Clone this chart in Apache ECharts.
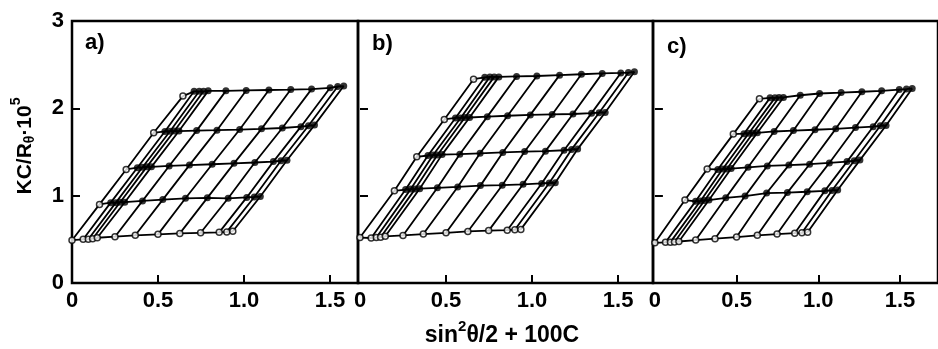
<!DOCTYPE html>
<html>
<head>
<meta charset="utf-8">
<script src="https://cdn.jsdelivr.net/npm/echarts@6/dist/echarts.min.js"></script>
<style>
  html, body { margin: 0; padding: 0; background: #fff; }
  #chart { width: 938px; height: 349px; }
</style>
</head>
<body>
<div id="chart"></div>
<script>
  // sin^2(theta/2) of the 12 scattering angles
  const sinSq = [0.065, 0.095, 0.12, 0.147, 0.25, 0.368, 0.5, 0.627, 0.748, 0.856, 0.9, 0.935]
  const xTicks = [0, 0.5, 1, 1.5]
  const yTicks = [0, 1, 2, 3]
  const panelNames = ['a)', 'b)', 'c)']

  // panel a
  const concA = [0.16, 0.315, 0.475, 0.645]
  const zeroAngleA = [0.90, 1.30, 1.72, 2.14]
  const originA = 0.49
  const zeroConcA = [0.50, 0.50, 0.507, 0.518, 0.53, 0.546, 0.557, 0.568, 0.575, 0.58, 0.585, 0.592]
  const a1 = [0.92, 0.92, 0.925, 0.925, 0.94, 0.955, 0.97, 0.975, 0.97, 0.98, 0.985, 0.99]
  const a2 = [1.32, 1.325, 1.33, 1.33, 1.34, 1.35, 1.36, 1.37, 1.38, 1.39, 1.40, 1.405]
  const a3 = [1.735, 1.738, 1.74, 1.74, 1.745, 1.75, 1.757, 1.765, 1.775, 1.79, 1.80, 1.808]
  const a4 = [2.195, 2.195, 2.195, 2.2, 2.2, 2.205, 2.21, 2.215, 2.22, 2.235, 2.25, 2.255]

  // panel b
  const concB = [0.2, 0.33, 0.49, 0.66]
  const zeroAngleB = [1.056, 1.445, 1.873, 2.334]
  const originB = 0.52
  const zeroConcB = [0.515, 0.52, 0.525, 0.535, 0.545, 0.56, 0.575, 0.59, 0.60, 0.605, 0.61, 0.614]
  const b1 = [1.07, 1.075, 1.075, 1.08, 1.09, 1.10, 1.115, 1.12, 1.13, 1.14, 1.145, 1.148]
  const b2 = [1.46, 1.465, 1.465, 1.47, 1.475, 1.485, 1.495, 1.505, 1.51, 1.52, 1.53, 1.533]
  const b3 = [1.89, 1.89, 1.895, 1.895, 1.905, 1.915, 1.925, 1.93, 1.935, 1.945, 1.95, 1.953]
  const b4 = [2.355, 2.36, 2.36, 2.36, 2.365, 2.37, 2.38, 2.39, 2.40, 2.405, 2.41, 2.418]

  // panel c
  const concC = [0.184, 0.32, 0.48, 0.64]
  const zeroAngleC = [0.95, 1.304, 1.705, 2.109]
  const originC = 0.46
  const zeroConcC = [0.466, 0.468, 0.47, 0.475, 0.492, 0.507, 0.526, 0.546, 0.56, 0.57, 0.575, 0.58]
  const c1 = [0.935, 0.94, 0.945, 0.95, 0.975, 0.995, 1.03, 1.035, 1.045, 1.055, 1.06, 1.064]
  const c2 = [1.30, 1.305, 1.305, 1.31, 1.325, 1.34, 1.35, 1.36, 1.375, 1.39, 1.40, 1.407]
  const c3 = [1.71, 1.715, 1.715, 1.72, 1.735, 1.745, 1.755, 1.765, 1.78, 1.79, 1.80, 1.804]
  const c4 = [2.12, 2.12, 2.125, 2.125, 2.15, 2.17, 2.18, 2.19, 2.2, 2.215, 2.22, 2.228]

  const panels = [
    {conc: concA, zeroAngle: zeroAngleA, origin: originA, zeroConc: zeroConcA, rows: [a1, a2, a3, a4]},
    {conc: concB, zeroAngle: zeroAngleB, origin: originB, zeroConc: zeroConcB, rows: [b1, b2, b3, b4]},
    {conc: concC, zeroAngle: zeroAngleC, origin: originC, zeroConc: zeroConcC, rows: [c1, c2, c3, c4]}
  ]

  const font = 'Liberation Sans'
  const grids = [
    {left: 72, top: 21, width: 286, height: 262},
    {left: 358, top: 21, width: 295, height: 262},
    {left: 653, top: 21, width: 300, height: 262}
  ]
  const xRange = [[0, 1.663], [-0.0116, 1.703], [-0.0116, 1.733]]

  function lineSeries (idx, data) {
    return {
      type: 'line',
      xAxisIndex: idx,
      yAxisIndex: idx,
      data: data,
      symbol: 'none',
      silent: true,
      z: 2,
      lineStyle: {color: '#000', width: 1.8}
    }
  }

  let series = []
  panels.forEach((p, idx) => {
    let openPts = [[0, p.origin]]
    let filledPts = []
    // extrapolated c = 0 line
    let bottom = [[0, p.origin]]
    sinSq.forEach((k, i) => {
      bottom.push([k, p.zeroConc[i]])
      openPts.push([k, p.zeroConc[i]])
    })
    series.push(lineSeries(idx, bottom))
    // extrapolated theta = 0 line
    let left = [[0, p.origin]]
    p.conc.forEach((c, j) => {
      left.push([c, p.zeroAngle[j]])
      openPts.push([c, p.zeroAngle[j]])
    })
    series.push(lineSeries(idx, left))
    // constant concentration lines
    p.conc.forEach((c, j) => {
      let row = [[c, p.zeroAngle[j]]]
      sinSq.forEach((k, i) => {
        row.push([k + c, p.rows[j][i]])
        filledPts.push([k + c, p.rows[j][i]])
      })
      series.push(lineSeries(idx, row))
    })
    // constant angle lines
    sinSq.forEach((k, i) => {
      let col = [[k, p.zeroConc[i]]]
      p.conc.forEach((c, j) => {
        col.push([k + c, p.rows[j][i]])
      })
      series.push(lineSeries(idx, col))
    })
    series.push({
      type: 'scatter', xAxisIndex: idx, yAxisIndex: idx, data: filledPts,
      symbol: 'circle', symbolSize: 7, z: 4, silent: true,
      itemStyle: {color: '#000'}
    })
    series.push({
      type: 'scatter', xAxisIndex: idx, yAxisIndex: idx, data: openPts,
      symbol: 'circle', symbolSize: 6, z: 5, silent: true,
      itemStyle: {color: '#fff', borderColor: '#000', borderWidth: 1.5}
    })
  })

  const txt = {fontFamily: font, fontWeight: 'bold', fill: '#000', verticalAlign: 'middle'}

  const chart = echarts.init(document.getElementById('chart'))
  chart.setOption({
    animation: false,
    backgroundColor: '#fff',
    grid: grids.map((g) => Object.assign({show: true, borderColor: '#000', borderWidth: 2.5}, g)),
    xAxis: grids.map((g, idx) => ({
      type: 'value',
      gridIndex: idx,
      min: xRange[idx][0],
      max: xRange[idx][1],
      splitLine: {show: false},
      axisLine: {show: false},
      axisTick: {show: true, inside: true, length: 8, customValues: [0.5, 1, 1.5], lineStyle: {color: '#000', width: 2}},
      axisLabel: {
        customValues: xTicks,
        margin: 7,
        color: '#000',
        fontFamily: font,
        fontWeight: 'bold',
        fontSize: 22,
        formatter: (v) => (v === 0 ? '0' : v.toFixed(1))
      }
    })),
    yAxis: grids.map((g, idx) => ({
      type: 'value',
      gridIndex: idx,
      min: 0,
      max: 3,
      interval: 1,
      splitLine: {show: false},
      axisLine: {show: false},
      axisTick: {show: true, inside: true, length: 8, customValues: [1, 2], lineStyle: {color: '#000', width: 2}},
      axisLabel: {
        show: idx === 0,
        customValues: yTicks,
        margin: 8,
        color: '#000',
        fontFamily: font,
        fontWeight: 'bold',
        fontSize: 22
      }
    })),
    graphic: [
      {type: 'text', left: 85, top: 32, style: {text: panelNames[0], fontFamily: font, fontWeight: 'bold', fontSize: 22, fill: '#000'}},
      {type: 'text', left: 372, top: 33, style: {text: panelNames[1], fontFamily: font, fontWeight: 'bold', fontSize: 22, fill: '#000'}},
      {type: 'text', left: 667, top: 36, style: {text: panelNames[2], fontFamily: font, fontWeight: 'bold', fontSize: 22, fill: '#000'}},
      {
        type: 'text', x: 25, y: 146, rotation: Math.PI / 2,
        style: {
          text: '{m|KC/R}{sub|θ}{m|·10}{sup|5}',
          align: 'center', verticalAlign: 'middle',
          rich: {
            m: Object.assign({fontSize: 21}, txt),
            sub: Object.assign({fontSize: 14, padding: [11, 0, 0, 0]}, txt),
            sup: Object.assign({fontSize: 14, padding: [0, 0, 17, 0]}, txt)
          }
        }
      },
      {
        type: 'text', x: 502, y: 336,
        style: {
          text: '{m|sin}{sup|2}{m|θ/2 + 100C}',
          align: 'center', verticalAlign: 'middle',
          rich: {
            m: Object.assign({fontSize: 23}, txt),
            sup: Object.assign({fontSize: 15, padding: [0, 0, 19, 0]}, txt)
          }
        }
      }
    ],
    series: series
  })
</script>
</body>
</html>
